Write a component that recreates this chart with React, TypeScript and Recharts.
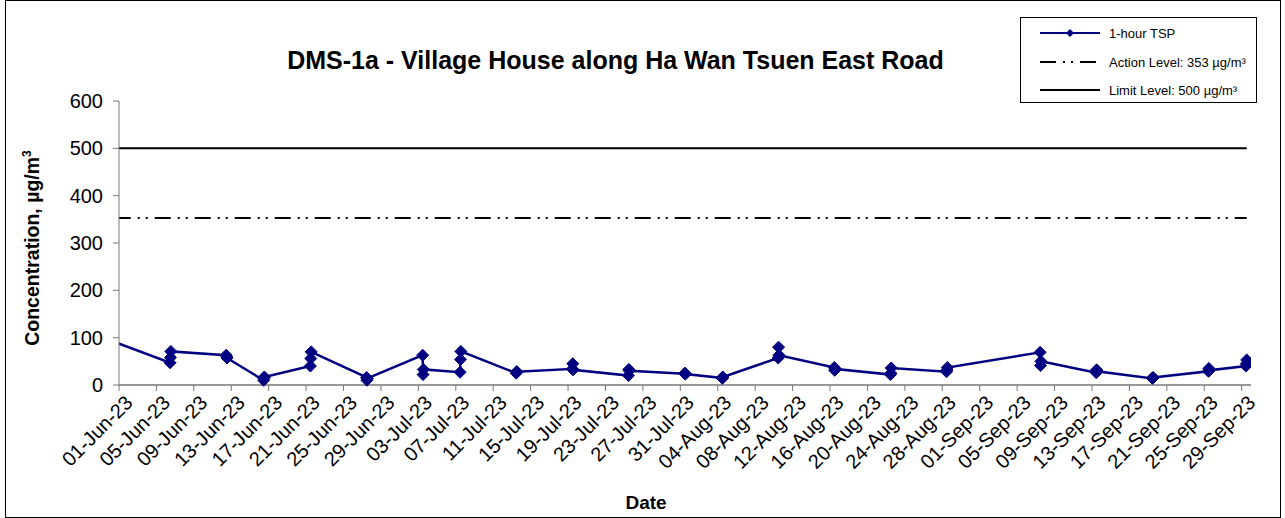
import { LineChart, Line, XAxis, YAxis } from "recharts"

// tick labels on the date axis, every 4 days
const tickDates = [
  "01-Jun-23", "05-Jun-23", "09-Jun-23", "13-Jun-23", "17-Jun-23", "21-Jun-23",
  "25-Jun-23", "29-Jun-23", "03-Jul-23", "07-Jul-23", "11-Jul-23", "15-Jul-23",
  "19-Jul-23", "23-Jul-23", "27-Jul-23", "31-Jul-23", "04-Aug-23", "08-Aug-23",
  "12-Aug-23", "16-Aug-23", "20-Aug-23", "24-Aug-23", "28-Aug-23", "01-Sep-23",
  "05-Sep-23", "09-Sep-23", "13-Sep-23", "17-Sep-23", "21-Sep-23", "25-Sep-23",
  "29-Sep-23",
]
const axisStart = "01-Jun-23"
const axisEnd = "30-Sep-23"

// monitoring days, three 1-hour samples each
const sampleDates = [
  "06-Jun-23", "12-Jun-23", "16-Jun-23", "21-Jun-23", "27-Jun-23", "03-Jul-23",
  "07-Jul-23", "13-Jul-23", "19-Jul-23", "25-Jul-23", "31-Jul-23", "04-Aug-23",
  "10-Aug-23", "16-Aug-23", "22-Aug-23", "28-Aug-23", "07-Sep-23", "13-Sep-23",
  "19-Sep-23", "25-Sep-23", "29-Sep-23",
]
const sampleHours = [11, 12, 13]
const tspValues = [
  [47, 58, 71], [63, 60, 57], [10, 14, 17], [40, 56, 70], [16, 10, 14],
  [63, 22, 33], [27, 54, 71], [25, 28, 28], [34, 45, 32], [20, 33, 30],
  [24, 25, 23], [15, 14, 17], [57, 80, 63], [37, 31, 34], [22, 25, 36],
  [28, 32, 37], [69, 41, 50], [26, 32, 29], [14, 15, 16], [29, 35, 31],
  [40, 45, 53],
]
// last sample of the previous period, off the left edge
const previousSample = { date: "31-May-23", hour: 13, value: 91 }

const actionLevel = 353
const limitLevel = 500
const yTicks = [0, 100, 200, 300, 400, 500, 600]

const FONT = "'Liberation Sans', Arial, sans-serif"
const NAVY = "#000080"
const ACTION_DASH = "16 7 2 6 2 7"

const MONTHS: Record<string, number> = {
  Jan: 0, Feb: 1, Mar: 2, Apr: 3, May: 4, Jun: 5,
  Jul: 6, Aug: 7, Sep: 8, Oct: 9, Nov: 10, Dec: 11,
}

function toUtc(label: string) {
  const [d, m, y] = label.split("-")
  return Date.UTC(2000 + Number(y), MONTHS[m], Number(d))
}

function dayOf(label: string, hour = 0) {
  return (toUtc(label) - toUtc(axisStart)) / 86400000 + hour / 24
}

const tickValues = tickDates.map((d) => dayOf(d))

const tspData = [
  { x: dayOf(previousSample.date, previousSample.hour), v: previousSample.value },
  ...sampleDates.flatMap((d, i) =>
    sampleHours.map((h, j) => ({ x: dayOf(d, h), v: tspValues[i][j] }))
  ),
]

const firstX = tspData[0].x
const lastX = tspData[tspData.length - 1].x
const actionData = [{ x: firstX, v: actionLevel }, { x: lastX, v: actionLevel }]
const limitData = [{ x: firstX, v: limitLevel }, { x: lastX, v: limitLevel }]

function Diamond(props: any) {
  const { cx, cy, payload, index } = props
  if (cx == null || cy == null || payload.x < 0) return <g key={`d-${index}`} />
  const r = 6
  return (
    <path
      key={`d-${index}`}
      d={`M${cx},${cy - r} L${cx + r},${cy} L${cx},${cy + r} L${cx - r},${cy} Z`}
      fill={NAVY}
      stroke={NAVY}
      strokeWidth={1}
    />
  )
}

function DateTick(props: any) {
  const { x, y, payload } = props
  const i = tickValues.indexOf(payload.value)
  return (
    <g transform={`translate(${x + 5},${y + 1})`}>
      <text
        x={0}
        y={0}
        dy="0.7em"
        textAnchor="end"
        transform="rotate(-45)"
        fontSize={20}
        fontFamily={FONT}
        fill="#000"
      >
        {tickDates[i]}
      </text>
    </g>
  )
}

function LegendBox() {
  return (
    <svg
      width={237}
      height={86}
      style={{ position: "absolute", left: 1020, top: 17 }}
    >
      <rect x={0.5} y={0.5} width={236} height={85} fill="#fff" stroke="#000" />
      <line x1={20} x2={80} y1={16} y2={16} stroke={NAVY} strokeWidth={2} />
      <path d="M50,12 L54,16 L50,20 L46,16 Z" fill={NAVY} />
      <text x={89} y={20.5} fontSize={13} fontFamily={FONT}>1-hour TSP</text>
      <line x1={20} x2={80} y1={45} y2={45} stroke="#000" strokeWidth={2} strokeDasharray={ACTION_DASH} />
      <text x={89} y={49.5} fontSize={13} fontFamily={FONT}>Action Level: 353 µg/m³</text>
      <line x1={20} x2={80} y1={73} y2={73} stroke="#000" strokeWidth={2} />
      <text x={89} y={77.5} fontSize={13} fontFamily={FONT}>Limit Level: 500 µg/m³</text>
    </svg>
  )
}

export default function App() {
  return (
    <div
      style={{
        position: "absolute",
        left: 0,
        top: 0,
        width: 1285,
        height: 518,
        background: "#fff",
        fontFamily: FONT,
      }}
    >
      <div
        style={{
          position: "absolute",
          left: 5,
          top: 0,
          width: 1274,
          height: 516,
          border: "1px solid #000",
        }}
      />
      <LineChart
        width={1285}
        height={518}
        margin={{ top: 101, right: 34, bottom: 0, left: 0 }}
      >
        <XAxis
          type="number"
          dataKey="x"
          domain={[dayOf(axisStart), dayOf(axisEnd)]}
          allowDataOverflow
          ticks={tickValues}
          interval={0}
          tick={<DateTick />}
          tickSize={6}
          height={133}
          stroke="#333"
          tickLine={{ stroke: "#777" }}
          label={{
            content: () => (
              <text x={646} y={509} textAnchor="middle" fontSize={19} fontWeight="bold" fontFamily={FONT}>
                Date
              </text>
            ),
          }}
        />
        <YAxis
          type="number"
          domain={[0, 600]}
          ticks={yTicks}
          interval={0}
          width={119}
          tickSize={6}
          tickMargin={10}
          stroke="#777"
          tick={{ fontSize: 20, fill: "#000", fontFamily: FONT }}
          label={{
            content: () => (
              <text
                transform="translate(39,248) rotate(-90)"
                textAnchor="middle"
                fontSize={19.5}
                fontWeight="bold"
                fontFamily={FONT}
              >
                Concentration, µg/m
                <tspan dy={-8} fontSize={12}>3</tspan>
              </text>
            ),
          }}
        />
        <Line
          data={limitData}
          dataKey="v"
          stroke="#000"
          strokeWidth={2}
          dot={false}
          isAnimationActive={false}
        />
        <Line
          data={actionData}
          dataKey="v"
          stroke="#000"
          strokeWidth={2}
          strokeDasharray={ACTION_DASH}
          dot={false}
          isAnimationActive={false}
        />
        <Line
          data={tspData}
          dataKey="v"
          stroke={NAVY}
          strokeWidth={2.5}
          dot={Diamond}
          isAnimationActive={false}
        />
      </LineChart>
      <div
        style={{
          position: "absolute",
          left: 0,
          width: 1231,
          top: 46,
          textAlign: "center",
          fontSize: 25,
          fontWeight: "bold",
        }}
      >
        DMS-1a - Village House along Ha Wan Tsuen East Road
      </div>
      <LegendBox />
    </div>
  )
}
